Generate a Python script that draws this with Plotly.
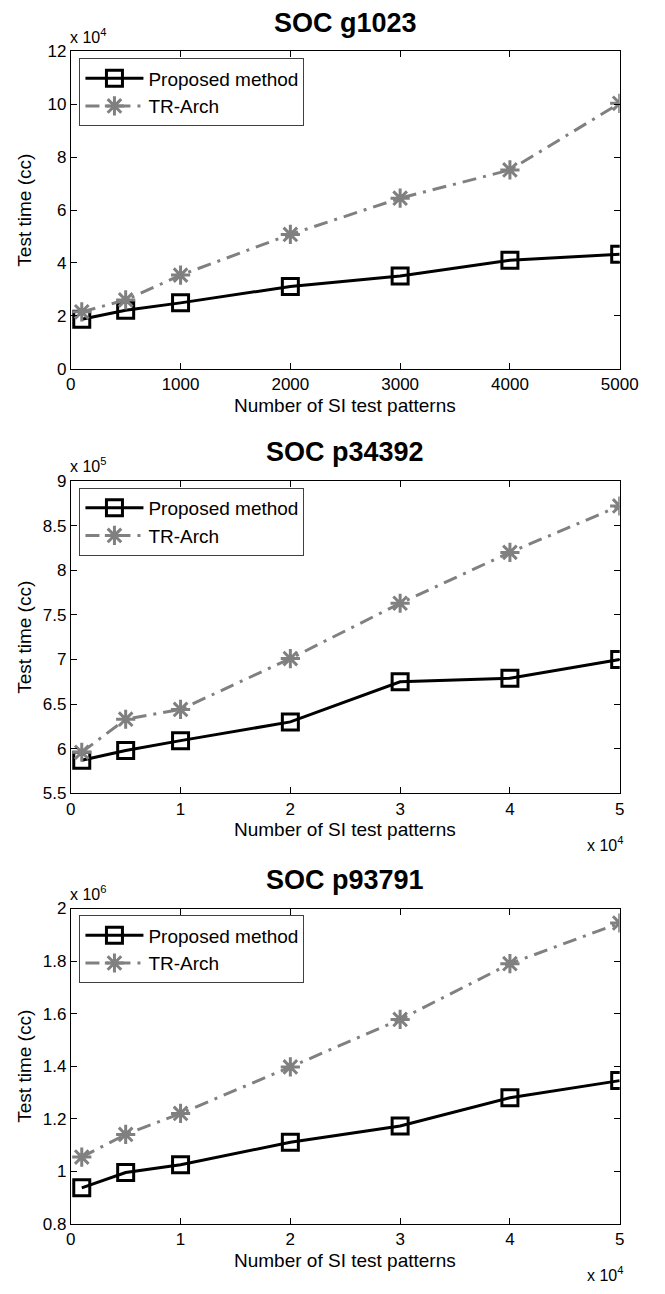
import plotly.graph_objects as go

# ---------------- data ----------------
titles = ["SOC g1023", "SOC p34392", "SOC p93791"]
series_names = ["Proposed method", "TR-Arch"]

x_g1023 = [100, 500, 1000, 2000, 3000, 4000, 5000]
prop_g1023 = [1.87e4, 2.21e4, 2.49e4, 3.11e4, 3.51e4, 4.10e4, 4.33e4]
tr_g1023 = [2.15e4, 2.60e4, 3.54e4, 5.08e4, 6.45e4, 7.52e4, 10.04e4]

x_p = [1000, 5000, 10000, 20000, 30000, 40000, 50000]
prop_p34392 = [5.87e5, 5.98e5, 6.09e5, 6.30e5, 6.75e5, 6.79e5, 7.00e5]
tr_p34392 = [5.96e5, 6.33e5, 6.44e5, 7.01e5, 7.63e5, 8.20e5, 8.72e5]

prop_p93791 = [0.937e6, 0.995e6, 1.025e6, 1.110e6, 1.172e6, 1.280e6, 1.345e6]
tr_p93791 = [1.054e6, 1.140e6, 1.220e6, 1.397e6, 1.578e6, 1.790e6, 1.945e6]

xticks_g1023 = [0, 1000, 2000, 3000, 4000, 5000]
xticktext_g1023 = ["0", "1000", "2000", "3000", "4000", "5000"]
xticks_p = [0, 10000, 20000, 30000, 40000, 50000]
xticktext_p = ["0", "1", "2", "3", "4", "5"]

yticks_g1023 = [0, 2e4, 4e4, 6e4, 8e4, 10e4, 12e4]
yticktext_g1023 = ["0", "2", "4", "6", "8", "10", "12"]
yticks_p34392 = [5.5e5, 6e5, 6.5e5, 7e5, 7.5e5, 8e5, 8.5e5, 9e5]
yticktext_p34392 = ["5.5", "6", "6.5", "7", "7.5", "8", "8.5", "9"]
yticks_p93791 = [0.8e6, 1.0e6, 1.2e6, 1.4e6, 1.6e6, 1.8e6, 2.0e6]
yticktext_p93791 = ["0.8", "1", "1.2", "1.4", "1.6", "1.8", "2"]

y_exponents = ["x 10<sup>4</sup>", "x 10<sup>5</sup>", "x 10<sup>6</sup>"]
x_exponent = "x 10<sup>4</sup>"
x_title = "Number of SI test patterns"
y_title = "Test time (cc)"

# ---------------- layout helpers ----------------
OFF = 8                      # page body margin (figure starts at 8,8)
W, H = 665 - 2 * OFF, 1294 - 2 * OFF
FONT = "Liberation Sans, Arial, Helvetica, sans-serif"
GRAY = "#808080"

def px_x(p):
    return (p - OFF) / W

def px_y(p):
    return 1 - (p - OFF) / H

x_dom = [px_x(68), px_x(638)]
# (top px, bottom px) of each axes box in page pixels
boxes = [(43, 365), (479, 796), (913, 1233)]

panels = [
    (x_g1023, prop_g1023, tr_g1023, [0, 5000], xticks_g1023, xticktext_g1023,
     [0, 12e4], yticks_g1023, yticktext_g1023),
    (x_p, prop_p34392, tr_p34392, [0, 50000], xticks_p, xticktext_p,
     [5.5e5, 9e5], yticks_p34392, yticktext_p34392),
    (x_p, prop_p93791, tr_p93791, [0, 50000], xticks_p, xticktext_p,
     [0.8e6, 2e6], yticks_p93791, yticktext_p93791),
]

fig = go.Figure()
layout = dict(
    width=W, height=H,
    margin=dict(l=0, r=0, t=0, b=0),
    paper_bgcolor="white", plot_bgcolor="white",
    font=dict(family=FONT, size=17, color="black"),
    showlegend=True,
)
annotations = []

for i, (xs, prop, tr, xr, xtv, xtt, yr, ytv, ytt) in enumerate(panels):
    n = "" if i == 0 else str(i + 1)
    xa = "x" + n
    ya = "y" + n
    leg = "legend" + n
    fig.add_trace(go.Scatter(
        x=xs, y=prop, name=series_names[0], mode="lines+markers",
        xaxis=xa, yaxis=ya, legend=leg,
        line=dict(color="black", width=3),
        marker=dict(symbol="square-open", size=16, color="black",
                    line=dict(color="black", width=3)),
    ))
    fig.add_trace(go.Scatter(
        x=xs, y=tr, name=series_names[1], mode="lines+markers",
        xaxis=xa, yaxis=ya, legend=leg,
        line=dict(color=GRAY, width=3, dash="14px,7px,3px,7px"),
        marker=dict(symbol="asterisk-open", size=16, color=GRAY,
                    line=dict(color=GRAY, width=3)),
    ))
    top, bot = boxes[i]
    common = dict(showline=True, linecolor="black", linewidth=1, mirror="ticks",
                  ticks="inside", ticklen=6, tickcolor="black", showgrid=False,
                  zeroline=False, tickfont=dict(size=17, family=FONT),
                  ticklabeloverflow="allow")
    layout["xaxis" + n] = dict(domain=x_dom, range=xr, tickvals=xtv, ticktext=xtt,
                               anchor=ya, **common)
    layout["yaxis" + n] = dict(domain=[px_y(bot), px_y(top)], range=yr,
                               tickvals=ytv, ticktext=ytt, anchor=xa, **common)
    layout[leg] = dict(x=px_x(77), y=px_y(top + 7), xanchor="left", yanchor="top",
                       bgcolor="white", bordercolor="#404040", borderwidth=1,
                       font=dict(size=19, family=FONT), itemwidth=58,
                       tracegroupgap=0)
    # title
    annotations.append(dict(text="<b>" + titles[i] + "</b>", x=px_x(353), y=px_y(top - 29),
                            xref="paper", yref="paper", showarrow=False,
                            xanchor="center", yanchor="middle",
                            font=dict(size=27, family=FONT)))
    # y exponent
    annotations.append(dict(text=y_exponents[i], x=px_x(65), y=px_y(top - 16),
                            xref="paper", yref="paper", showarrow=False,
                            xanchor="left", yanchor="middle",
                            font=dict(size=16, family=FONT)))
    # y title
    annotations.append(dict(text=y_title, x=px_x(20), y=px_y((top + bot) / 2),
                            xref="paper", yref="paper", showarrow=False, textangle=-90,
                            xanchor="center", yanchor="middle",
                            font=dict(size=19, family=FONT)))
    # x title
    annotations.append(dict(text=x_title, x=px_x(353), y=px_y(bot + 37),
                            xref="paper", yref="paper", showarrow=False,
                            xanchor="center", yanchor="middle",
                            font=dict(size=19, family=FONT)))
    if i > 0:
        annotations.append(dict(text=x_exponent, x=px_x(644), y=px_y(bot + 51),
                                xref="paper", yref="paper", showarrow=False,
                                xanchor="right", yanchor="middle",
                                font=dict(size=16, family=FONT)))

layout["annotations"] = annotations
fig.update_layout(**layout)
fig.write_html("out.html")
